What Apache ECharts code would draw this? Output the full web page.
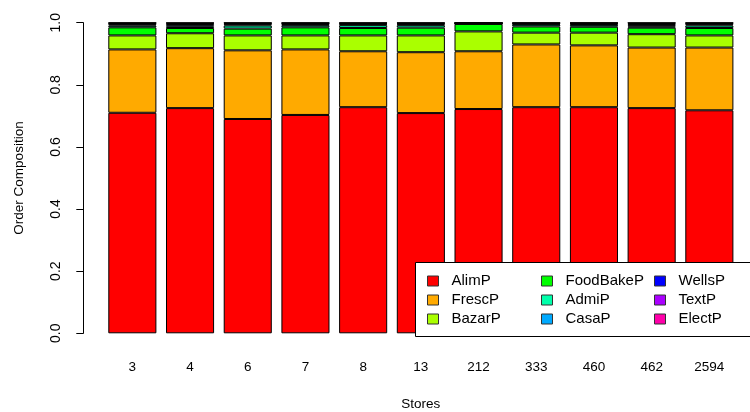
<!DOCTYPE html>
<html>
<head>
<meta charset="utf-8">
<script src="https://cdn.jsdelivr.net/npm/echarts@6/dist/echarts.min.js"></script>
<style>
  html, body { margin: 0; padding: 0; background: #fff; }
  #chart { width: 750px; height: 412px; }
</style>
</head>
<body>
<div id="chart"></div>
<script>
// Share of each product group in the orders of every store
const stores = ['3', '4', '6', '7', '8', '13', '212', '333', '460', '462', '2594'];
const alimP     = [0.710, 0.725, 0.690, 0.703, 0.728, 0.709, 0.722, 0.728, 0.728, 0.725, 0.718];
const frescP    = [0.204, 0.193, 0.221, 0.211, 0.180, 0.196, 0.186, 0.202, 0.199, 0.195, 0.202];
const bazarP    = [0.045, 0.048, 0.048, 0.045, 0.051, 0.054, 0.064, 0.038, 0.041, 0.043, 0.039];
const foodBakeP = [0.026, 0.017, 0.022, 0.026, 0.024, 0.025, 0.024, 0.020, 0.019, 0.021, 0.024];
const admiP     = [0.006, 0.004, 0.010, 0.007, 0.009, 0.008, 0.001, 0.006, 0.006, 0.004, 0.008];
const casaP     = [0.004, 0.005, 0.004, 0.003, 0.003, 0.003, 0.001, 0.002, 0.003, 0.004, 0.004];
const wellsP    = [0.002, 0.004, 0.002, 0.002, 0.002, 0.002, 0.001, 0.002, 0.002, 0.004, 0.002];
const textP     = [0.002, 0.003, 0.002, 0.002, 0.002, 0.002, 0.0005, 0.001, 0.001, 0.003, 0.002];
const electP    = [0.001, 0.001, 0.001, 0.001, 0.001, 0.001, 0.0005, 0.001, 0.001, 0.001, 0.001];
const yTicks = [0, 0.2, 0.4, 0.6, 0.8, 1.0];

const groups = [
  { name: 'AlimP',     data: alimP,     color: '#FF0000' },
  { name: 'FrescP',    data: frescP,    color: '#FFAA00' },
  { name: 'BazarP',    data: bazarP,    color: '#AAFF00' },
  { name: 'FoodBakeP', data: foodBakeP, color: '#00FF00' },
  { name: 'AdmiP',     data: admiP,     color: '#00FFAA' },
  { name: 'CasaP',     data: casaP,     color: '#00AAFF' },
  { name: 'WellsP',    data: wellsP,    color: '#0000FF' },
  { name: 'TextP',     data: textP,     color: '#AA00FF' },
  { name: 'ElectP',    data: electP,    color: '#FF00AA' }
];

const FONT = 'Liberation Sans, Arial, sans-serif';

function legendColumn(names, left) {
  return {
    orient: 'vertical',
    left: left,
    top: 273,
    padding: 0,
    itemGap: 3,
    itemWidth: 11,
    itemHeight: 10,
    icon: 'rect',
    z: 10,
    selectedMode: false,
    data: names,
    itemStyle: { borderColor: '#333', borderWidth: 1 },
    textStyle: {
      fontFamily: FONT, fontSize: 15, color: '#000',
      lineHeight: 16, padding: [0, 0, 0, 8]
    }
  };
}

const chart = echarts.init(document.getElementById('chart'), null, { renderer: 'canvas' });
chart.setOption({
  animation: false,
  backgroundColor: '#fff',
  grid: {
    left: 103.5, right: 11.8, top: 22.7, bottom: 78.7,
    containLabel: false, outerBoundsMode: 'none'
  },
  xAxis: {
    type: 'category',
    data: stores,
    boundaryGap: true,
    axisLine: { show: false },
    axisTick: { show: false },
    axisLabel: { margin: 27, fontFamily: FONT, fontSize: 13.5, color: '#000' },
    name: 'Stores',
    nameLocation: 'middle',
    nameGap: 64,
    nameTextStyle: { fontFamily: FONT, fontSize: 13.5, color: '#000' }
  },
  yAxis: {
    type: 'value',
    min: 0,
    max: 1,
    interval: 0.2,
    offset: 20.2,
    splitLine: { show: false },
    axisLine: { show: true, lineStyle: { color: '#000', width: 1 } },
    axisTick: { show: true, length: 7, lineStyle: { color: '#000' } },
    axisLabel: {
      rotate: 90, margin: 20, fontFamily: FONT, fontSize: 14, color: '#000',
      formatter: v => yTicks.find(t => Math.abs(t - v) < 1e-9).toFixed(1)
    },
    name: 'Order Composition',
    nameLocation: 'middle',
    nameGap: 57,
    nameRotate: 90,
    nameTextStyle: { fontFamily: FONT, fontSize: 13.5, color: '#000' }
  },
  legend: [
    legendColumn(['AlimP', 'FrescP', 'BazarP'], 427),
    legendColumn(['FoodBakeP', 'AdmiP', 'CasaP'], 541),
    legendColumn(['WellsP', 'TextP', 'ElectP'], 654)
  ],
  graphic: [{
    type: 'rect',
    z: 5,
    shape: { x: 415.5, y: 262.5, width: 340, height: 74 },
    style: { fill: '#fff', stroke: '#000', lineWidth: 1 }
  }],
  series: groups.map(g => ({
    name: g.name,
    type: 'bar',
    stack: 'total',
    data: g.data,
    barCategoryGap: '16.67%',
    itemStyle: { color: g.color, borderColor: '#000', borderWidth: 1 }
  }))
});
</script>
</body>
</html>
